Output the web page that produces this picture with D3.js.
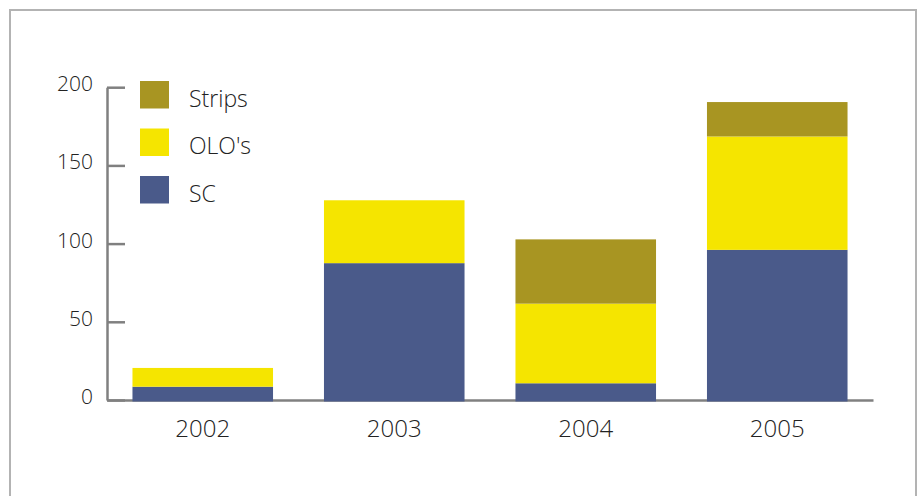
<!DOCTYPE html>
<html>
<head>
<meta charset="utf-8">
<script src="https://cdn.jsdelivr.net/npm/d3@7/dist/d3.min.js"></script>
<style>
  html, body { margin: 0; padding: 0; background: #fff; }
  svg { display: block; font-family: "Open Sans", Lato, sans-serif; font-weight: 300; }
</style>
</head>
<body>
<svg id="chart" width="922" height="496"></svg>
<script>
// Issuance by instrument type, per year
const years = ["2002", "2003", "2004", "2005"];
const scValues = [8.5, 87.5, 10.7, 96];
const oloValues = [12, 40.2, 50.9, 72.5];
const stripsValues = [0, 0, 41.1, 22];
const seriesNames = ["SC", "OLO's", "Strips"];
const seriesColors = ["#4a5a8a", "#f5e500", "#a89522"];
const yTicks = [0, 50, 100, 150, 200];

const svg = d3.select("#chart");

// outer frame
svg.append("rect")
  .attr("x", 10).attr("y", 10)
  .attr("width", 906).attr("height", 500)
  .attr("fill", "none").attr("stroke", "#b3b3b3").attr("stroke-width", 2);

const x = d3.scaleBand().domain(years).range([107, 873])
  .paddingInner(0.266).paddingOuter(0.133);
const y = d3.scaleLinear().domain([0, 200]).range([400, 87.2]);

const rows = years.map((yr, i) => ({
  year: yr, "SC": scValues[i], "OLO's": oloValues[i], "Strips": stripsValues[i]
}));
const stacked = d3.stack().keys(seriesNames)(rows);
const color = d3.scaleOrdinal().domain(seriesNames).range(seriesColors);

// y axis with inward ticks
const yAxis = svg.append("g")
  .attr("transform", "translate(107,0)")
  .call(d3.axisLeft(y).tickValues(yTicks).tickSizeInner(-18).tickSizeOuter(0).tickPadding(0))
  .attr("font-family", null).attr("font-size", null);
yAxis.select(".domain").attr("stroke", "#808080").attr("stroke-width", 2.5);
yAxis.selectAll(".tick line").attr("stroke", "#808080").attr("stroke-width", 2.5);
yAxis.selectAll(".tick text")
  .attr("x", -14).attr("dy", "0.17em")
  .attr("text-anchor", "end")
  .attr("fill", "#222").style("font-size", "21px");

// x axis baseline and year labels
const xAxis = svg.append("g")
  .attr("transform", "translate(0,400)")
  .call(d3.axisBottom(x).tickSize(0).tickSizeOuter(0))
  .attr("font-family", null).attr("font-size", null);
xAxis.select(".domain").attr("stroke", "#808080").attr("stroke-width", 2.5);
xAxis.selectAll(".tick text")
  .attr("y", 37).attr("dy", 0)
  .attr("fill", "#222").style("font-size", "24px");

// stacked bars
svg.append("g").selectAll("g")
  .data(stacked)
  .join("g")
  .attr("fill", d => color(d.key))
  .selectAll("rect")
  .data(d => d.filter(s => s[1] - s[0] > 0))
  .join("rect")
  .attr("x", d => x(d.data.year))
  .attr("width", x.bandwidth())
  .attr("y", d => y(d[1]))
  .attr("height", d => y(d[0]) - y(d[1]) + (d[0] === 0 ? 1.5 : 0));

// legend
const legendOrder = ["Strips", "OLO's", "SC"];
const legend = svg.append("g").selectAll("g")
  .data(legendOrder)
  .join("g")
  .attr("transform", (d, i) => `translate(140,${81 + i * 47.5})`);
legend.append("rect")
  .attr("width", 29).attr("height", 27.5)
  .attr("fill", d => color(d));
legend.append("text")
  .attr("x", 49).attr("y", 25.5)
  .attr("fill", "#222").style("font-size", "23px")
  .text(d => d);
</script>
</body>
</html>
